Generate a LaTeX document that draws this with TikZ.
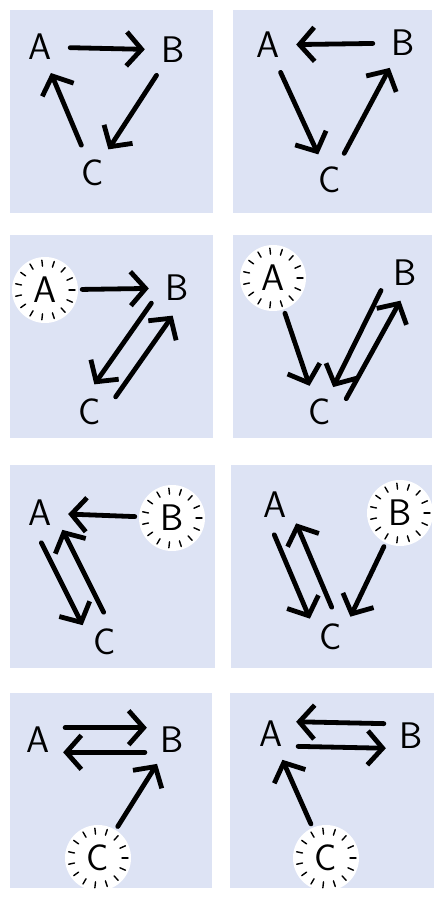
\documentclass[tikz,border=0pt]{standalone}
\usepackage{fontspec}
\usepackage{tikz}
\usetikzlibrary{arrows.meta}
\definecolor{wash}{RGB}{221,227,244}

\begin{document}
\begin{tikzpicture}[x=1pt,y=-1pt,
	every node/.style={font=\fontsize{37}{42}\selectfont\sffamily},
	letter/.style={circle,inner sep=0pt,minimum size=52pt},
	glow/.style={circle,inner sep=0pt,minimum size=66pt,fill=white},
	arr/.style={line width=4.8pt,line cap=round,shorten <=4pt,shorten >=2pt,-{Straight Barb[length=15pt,width=34pt]}},
	ray/.style={line width=1.4pt,line cap=round}]
	\useasboundingbox (0,0) rectangle (437,901);
	\foreach \xa/\ya/\xb/\yb in {10/10/213/213, 233/10/432/213, 10/235/213/438, 233/235/432/438, 10/465/215/668, 231/465/432/668, 10/693/212/888, 230/693/434/888} {\fill[wash] (\xa,\ya) rectangle (\xb,\yb);}

	\node[letter] (a1) at (40,47) {A};
	\node[letter] (b1) at (173,50) {B};
	\node[letter] (c1) at (93,173) {C};
	\foreach \u/\v in {a1/b1, b1/c1, c1/a1} {\draw[arr] (\u) -- (\v);}

	\node[letter] (a2) at (268,45) {A};
	\node[letter] (b2) at (403,43) {B};
	\node[letter] (c2) at (330,180) {C};
	\foreach \u/\v in {b2/a2, a2/c2, c2/b2} {\draw[arr] (\u) -- (\v);}

	\node[glow] (a3) at (45,290) {A};
	\node[letter] (b3) at (177,288) {B};
	\node[letter] (c3) at (90,412) {C};
	\foreach \u/\v in {a3/b3, b3.207/c3.83, c3.27/b3.263} {\draw[arr] (\u) -- (\v);}

	\node[glow] (a4) at (273,278) {A};
	\node[letter] (b4) at (405,273) {B};
	\node[letter] (c4) at (320,412) {C};
	\foreach \u/\v in {a4/c4.112, b4.212/c4.62, c4.22/b4.262} {\draw[arr] (\u) -- (\v);}

	\node[letter] (a5) at (40,513) {A};
	\node[glow] (b5) at (172,518) {B};
	\node[letter] (c5) at (105,642) {C};
	\foreach \u/\v in {b5/a5, a5.269/c5.145, c5.89/a5.325} {\draw[arr] (\u) -- (\v);}

	\node[letter] (a6) at (275,505) {A};
	\node[glow] (b6) at (400,513) {B};
	\node[letter] (c6) at (331,637) {C};
	\foreach \u/\v in {a6.265/c6.141, c6.85/a6.321, b6/c6.45} {\draw[arr] (\u) -- (\v);}

	\node[letter] (a7) at (38,740) {A};
	\node[letter] (b7) at (172,740) {B};
	\node[glow] (c7) at (98,858) {C};
	\foreach \u/\v in {a7.28/b7.152, b7.208/a7.332, c7/b7} {\draw[arr] (\u) -- (\v);}

	\node[letter] (a8) at (271,734) {A};
	\node[letter] (b8) at (411,736) {B};
	\node[glow] (c8) at (326,858) {C};
	\foreach \u/\v in {b8.152/a8.28, a8.332/b8.208, c8/a8} {\draw[arr] (\u) -- (\v);}

	\foreach \g in {a3,a4,b5,b6,c7,c8} {\foreach \a in {0,24,...,336} {\draw[ray] (\g) ++(\a:24pt) -- ++(\a:6pt);}}
\end{tikzpicture}
\end{document}
